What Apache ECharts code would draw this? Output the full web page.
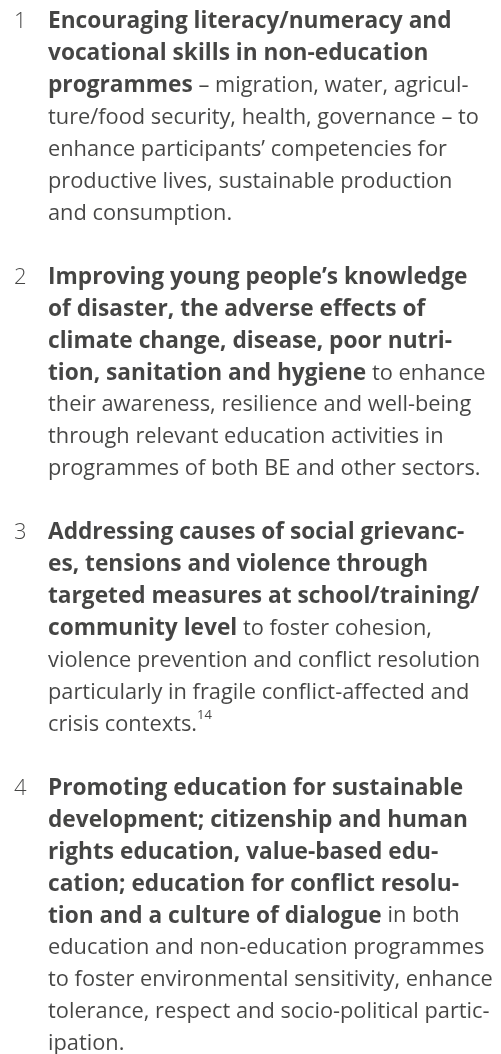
<!DOCTYPE html>
<html>
<head>
<meta charset="utf-8">
<script src="https://cdn.jsdelivr.net/npm/echarts@6/dist/echarts.min.js"></script>
<style>
  html, body { margin: 0; padding: 0; background: #fff; }
  #main { width: 501px; height: 1054px; }
</style>
</head>
<body>
<div id="main"></div>
<script>
// list numbers and the text of each item, one entry per printed line
// {b|...} = bold run, plain text = regular run, {s|..} = superscript
var itemNumbers = ["1", "2", "3", "4"];
var item1 = [
  "{b|Encouraging literacy/numeracy and}",
  "{b|vocational skills in non-education}",
  "{b|programmes} – migration, water, agricul-",
  "ture/food security, health, governance – to",
  "enhance participants’ competencies for",
  "productive lives, sustainable production",
  "and consumption."
];
var item2 = [
  "{b|Improving young people’s knowledge}",
  "{b|of disaster, the adverse effects of}",
  "{b|climate change, disease, poor nutri-}",
  "{b|tion, sanitation and hygiene} to enhance",
  "their awareness, resilience and well-being",
  "through relevant education activities in",
  "programmes of both BE and other sectors."
];
var item3 = [
  "{b|Addressing causes of social grievanc-}",
  "{b|es, tensions and violence through}",
  "{b|targeted measures at school/training/}",
  "{b|community level} to foster cohesion,",
  "violence prevention and conflict resolution",
  "particularly in fragile conflict-affected and",
  "crisis contexts.{s|14}"
];
var item4 = [
  "{b|Promoting education for sustainable}",
  "{b|development; citizenship and human}",
  "{b|rights education, value-based edu-}",
  "{b|cation; education for conflict resolu-}",
  "{b|tion and a culture of dialogue} in both",
  "education and non-education programmes",
  "to foster environmental sensitivity, enhance",
  "tolerance, respect and socio-political partic-",
  "ipation."
];
var items = [item1, item2, item3, item4];

var numX = 14;     // x of the list number
var textX = 48;    // x of the item text
var linesPerItem = 8; // 7 text lines + 1 blank line

var numData = [];
var textData = [];
for (var i = 0; i < items.length; i++) {
  var start = i * linesPerItem;
  numData.push({ value: [numX, start], label: { formatter: itemNumbers[i] } });
  for (var j = 0; j < items[i].length; j++) {
    textData.push({ value: [textX, start + j], label: { formatter: items[i][j] } });
  }
}

var font = "'Open Sans', 'Noto Sans', sans-serif";
var ink = "#161615";
var fs = 21.8;     // regular text
var fsBold = 22.7; // bold run

var myChart = echarts.init(document.getElementById("main"), null, { renderer: "canvas" });
myChart.setOption({
  animation: false,
  grid: { left: 0, right: 0, top: 22, bottom: 10 },
  xAxis: { type: "value", min: 0, max: 501, show: false },
  yAxis: { type: "value", min: 0, max: 32, inverse: true, show: false },
  series: [
    {
      name: "numbers",
      type: "scatter",
      symbolSize: 0,
      data: numData,
      label: {
        show: true,
        position: "right",
        distance: 0,
        fontFamily: font,
        fontSize: 22,
        fontWeight: 300,
        color: ink
      }
    },
    {
      name: "text",
      type: "scatter",
      symbolSize: 0,
      data: textData,
      label: {
        show: true,
        position: "right",
        distance: 0,
        fontFamily: font,
        fontSize: fs,
        fontWeight: 400,
        color: ink,
        lineHeight: 32,
        rich: {
          b: { fontFamily: font, fontSize: fsBold, fontWeight: "bold", color: ink, lineHeight: 32 },
          s: { fontFamily: font, fontSize: 13, fontWeight: 400, color: ink, lineHeight: 32, verticalAlign: "top", padding: [0, 0, 10, 0] }
        }
      }
    }
  ]
});
</script>
</body>
</html>
